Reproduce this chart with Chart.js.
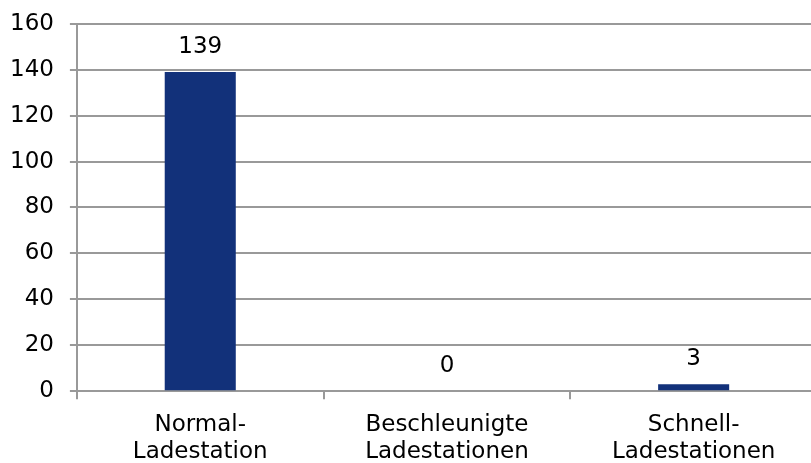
<!DOCTYPE html>
<html>
<head>
<meta charset="utf-8">
<script src="https://cdn.jsdelivr.net/npm/chart.js@4"></script>
<style>
    html, body { margin: 0; padding: 0; overflow: hidden; background: #fff; }
    #wrap { width: 824px; height: 483px; margin-left: -6px; margin-top: -6px; }
</style>
</head>
<body>
<div id="wrap"><canvas id="chart"></canvas></div>
<script>
var categories = [["Normal-", "Ladestation"], ["Beschleunigte", "Ladestationen"], ["Schnell-", "Ladestationen"]];
var stationCounts = [139, 0, 3];
var yTicks = [0, 20, 40, 60, 80, 100, 120, 140, 160];

// Draw the value above each bar
var valueLabels = {
    id: 'valueLabels',
    afterDatasetsDraw: function (chart) {
        var ctx = chart.ctx;
        var meta = chart.getDatasetMeta(0);
        ctx.save();
        ctx.font = '23px "DejaVu Sans"';
        ctx.fillStyle = '#000';
        ctx.textAlign = 'center';
        ctx.textBaseline = 'middle';
        meta.data.forEach(function (bar, i) {
            ctx.fillText(String(stationCounts[i]), bar.x, bar.y - 25);
        });
        ctx.restore();
    }
};

new Chart(document.getElementById('chart'), {
    type: 'bar',
    data: {
        labels: categories,
        datasets: [{
            data: stationCounts,
            backgroundColor: '#12317a',
            categoryPercentage: 1,
            barPercentage: 0.288
        }]
    },
    options: {
        responsive: true,
        maintainAspectRatio: false,
        animation: false,
        layout: { padding: { top: 5, left: 0, right: 1, bottom: 0 } },
        plugins: {
            legend: { display: false },
            tooltip: { enabled: false }
        },
        scales: {
            x: {
                border: { display: true, color: '#999', width: 2 },
                grid: { drawOnChartArea: false, drawTicks: true, tickLength: 8, color: '#999', lineWidth: 2 },
                ticks: {
                    color: '#000',
                    padding: 12,
                    maxRotation: 0,
                    font: { family: 'DejaVu Sans', size: 23, lineHeight: 1.17 }
                }
            },
            y: {
                min: 0,
                max: 160,
                afterBuildTicks: function (axis) {
                    axis.ticks = yTicks.map(function (v) { return { value: v }; });
                },
                border: { display: true, color: '#999', width: 2 },
                grid: { color: '#999', lineWidth: 2, tickLength: 7 },
                ticks: {
                    color: '#000',
                    padding: 16,
                    font: { family: 'DejaVu Sans', size: 23 }
                }
            }
        }
    },
    plugins: [valueLabels]
});
</script>
</body>
</html>
